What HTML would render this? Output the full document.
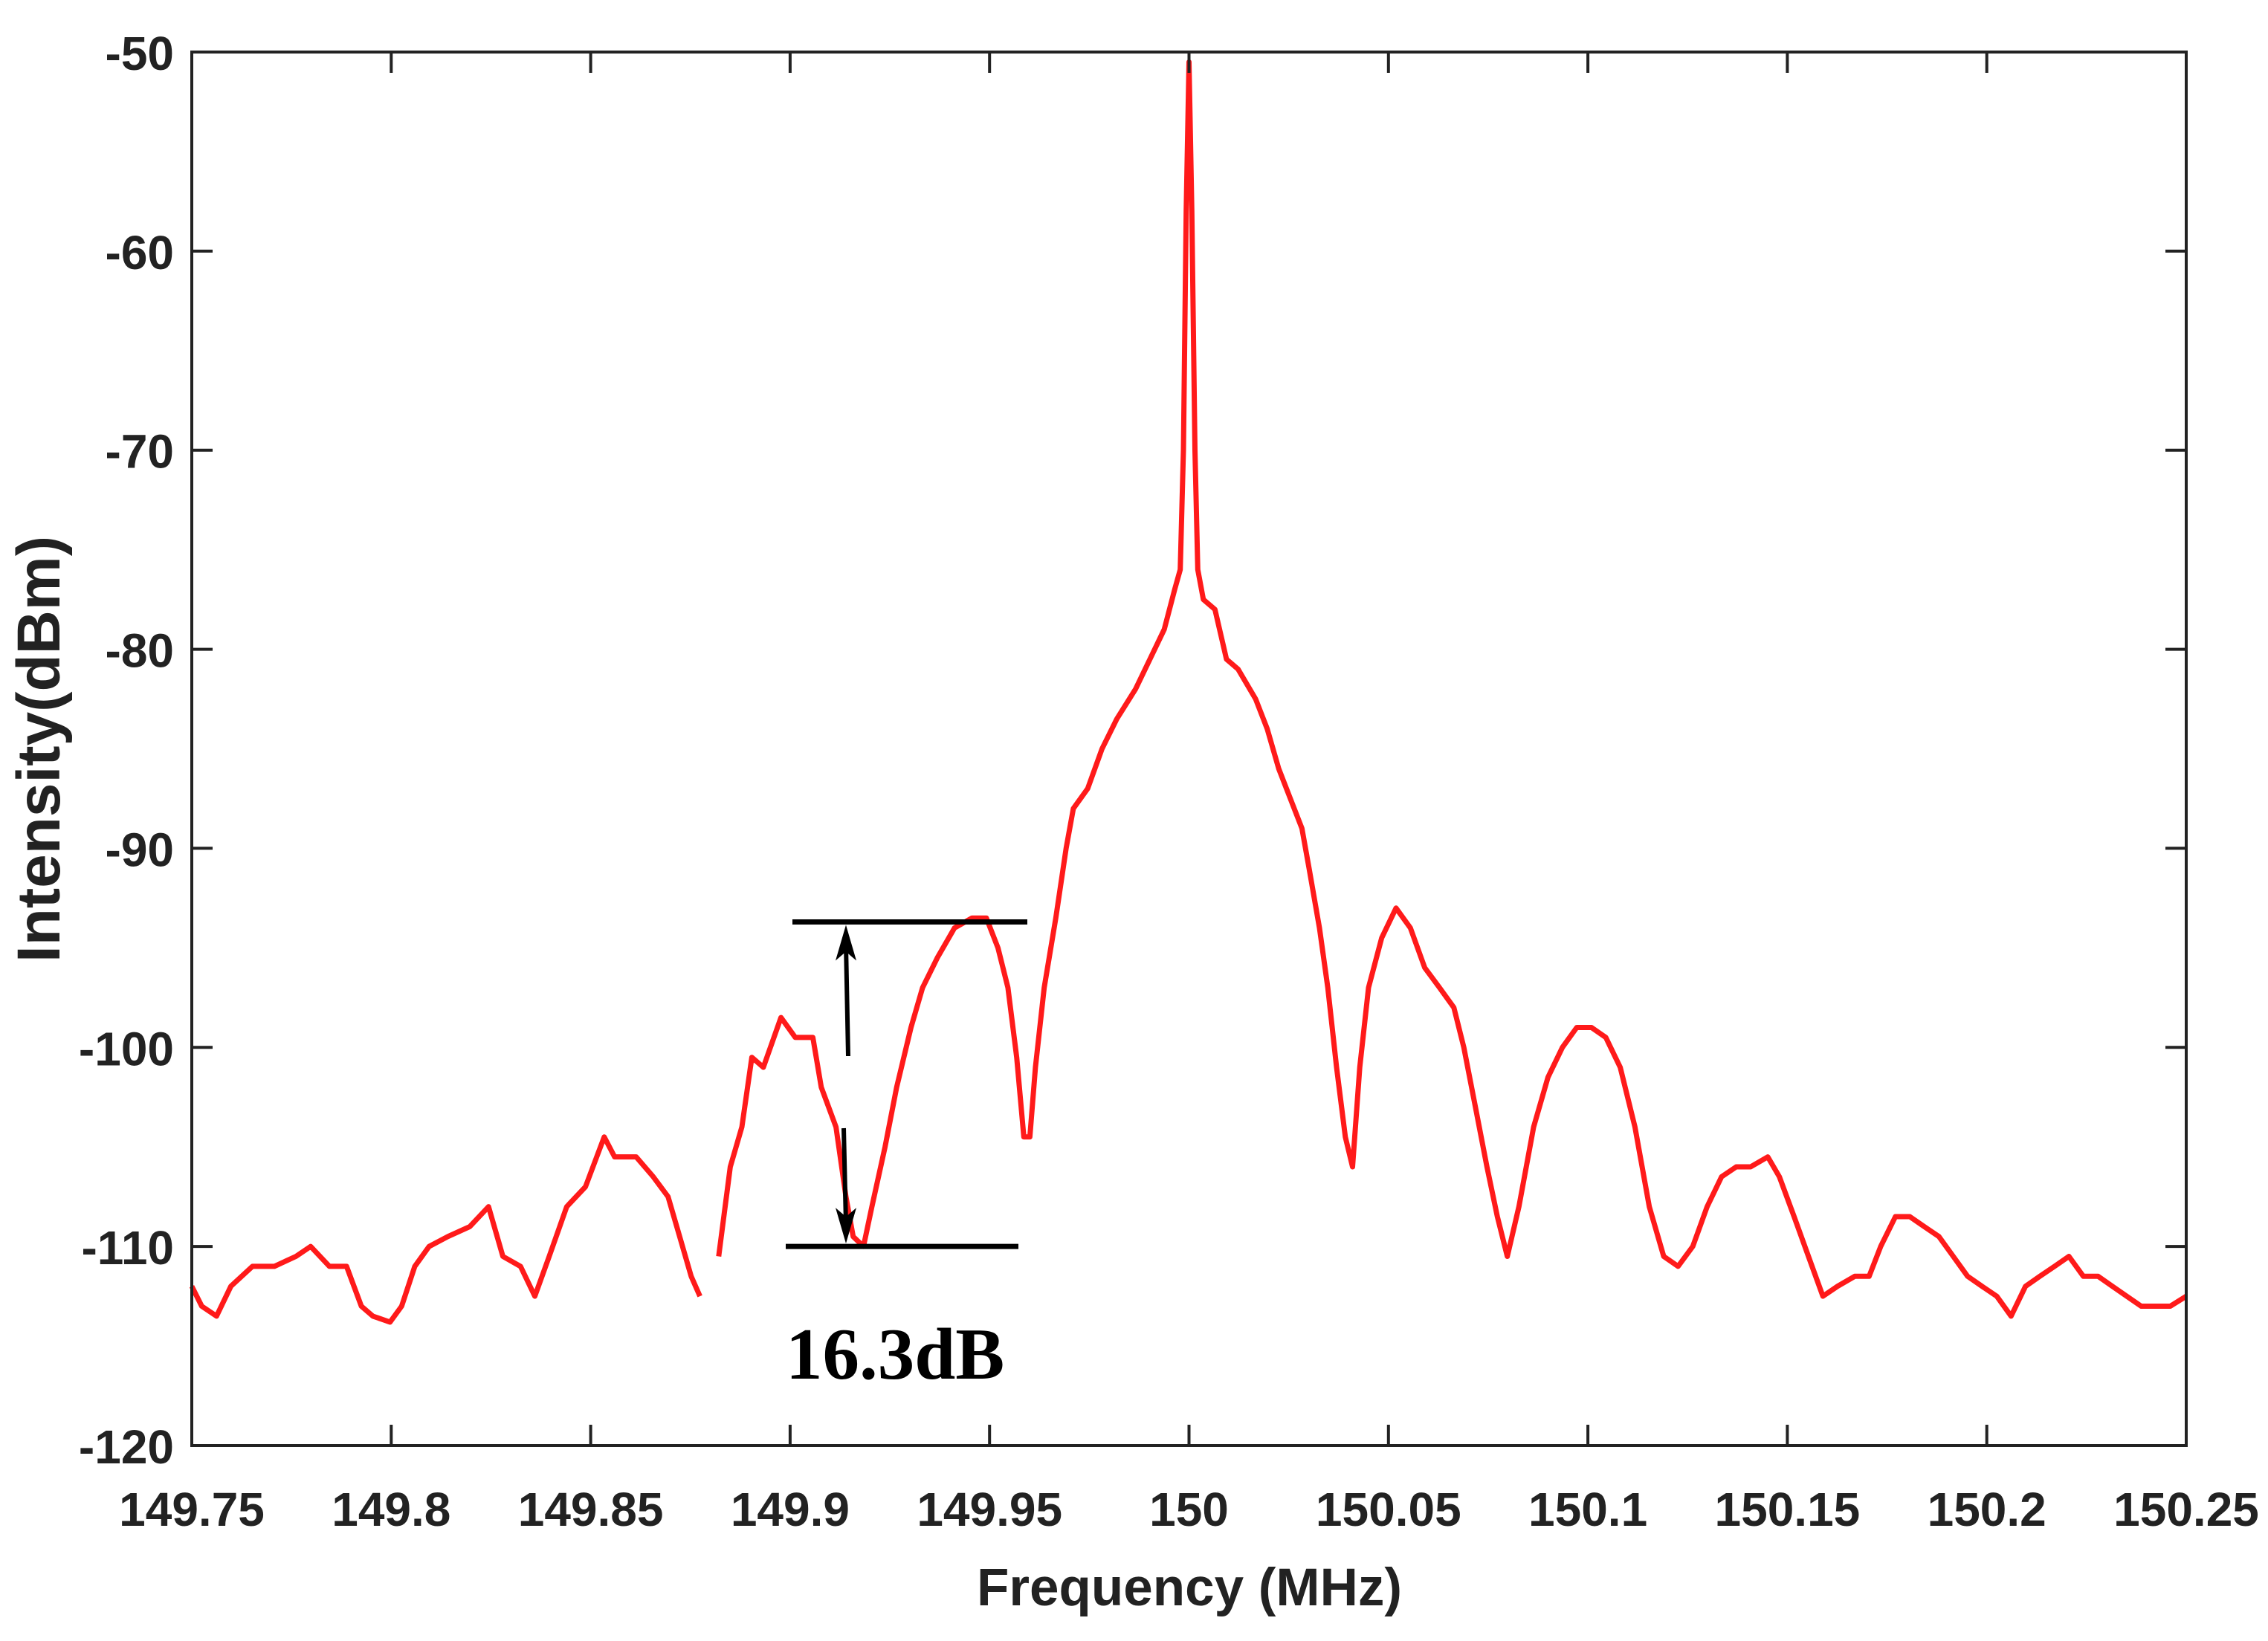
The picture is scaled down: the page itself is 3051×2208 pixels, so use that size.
<!DOCTYPE html>
<html><head><meta charset="utf-8"><style>
html,body{margin:0;padding:0;background:#fff;}
svg{display:block;}
text{font-family:"Liberation Sans",Arial,sans-serif;font-weight:bold;fill:#222;}
</style></head><body>
<svg id="chart" width="3051" height="2208" viewBox="0 0 3051 2208" xmlns="http://www.w3.org/2000/svg">
<rect x="0" y="0" width="3051" height="2208" fill="#fff"/>
<path id="trace" fill="none" stroke="#ff1a1a" stroke-width="7" stroke-linejoin="round"/>
<rect x="258" y="70" width="2683" height="1875" fill="none" stroke="#222" stroke-width="4"/>
<g id="ticks"></g>
<g id="annot"></g>
<text x="1600" y="2160" font-size="71" text-anchor="middle">Frequency (MHz)</text>
<text transform="translate(80,1008) rotate(-90)" font-size="82" text-anchor="middle">Intensity(dBm)</text>
</svg>
<script>
const xTicks = [149.75,149.8,149.85,149.9,149.95,150,150.05,150.1,150.15,150.2,150.25];
const xTickLabels = ["149.75","149.8","149.85","149.9","149.95","150","150.05","150.1","150.15","150.2","150.25"];
const yTicks = [-50,-60,-70,-80,-90,-100,-110,-120];
const yTickLabels = ["-50","-60","-70","-80","-90","-100","-110","-120"];
const freq = [149.75,149.7525,149.7562,149.7598,149.7652,149.7707,149.7761,149.7798,149.7845,149.7888,149.7925,149.7954,149.7997,149.8026,149.8059,149.8095,149.8142,149.8197,149.8244,149.8280,149.8324,149.8360,149.8396,149.8440,149.8487,149.8534,149.8560,149.8614,149.8657,149.8694,149.8723,149.8752,149.8774,149.8798,
149.8821,149.8850,149.8879,149.8904,149.8933,149.8977,149.9013,149.9057,149.9078,149.9115,149.9140,149.9158,149.9184,149.9205,149.9238,149.9267,149.9303,149.9332,149.9369,149.9412,149.9456,149.9492,149.9521,149.9546,149.9568,149.9586,149.9601,149.9615,149.9637,149.9666,149.9692,149.9710,149.9746,149.9782,149.9819,149.9866,149.9902,149.9938,149.9964,149.9978,149.9986,149.9993,150.0000,150.0007,150.0015,150.0022,150.0036,150.0065,150.0094,150.0123,150.0167,150.0196,150.0225,150.0254,150.0283,150.0301,150.0327,150.0348,150.0370,150.0392,150.0410,150.0428,150.0450,150.0483,150.0519,150.0555,150.0591,150.0628,150.0664,150.0689,150.0718,150.0747,150.0773,150.0798,150.0827,150.0864,150.0900,150.0936,150.0972,150.1009,150.1045,150.1081,150.1118,150.1154,150.1190,150.1226,150.1263,150.1299,150.1335,150.1372,150.1408,150.1451,150.1480,150.1517,150.1553,150.1589,150.1626,150.1669,150.1705,150.1734,150.1771,150.1807,150.1843,150.1880,150.1916,150.1952,150.1988,150.2025,150.2061,150.2097,150.2133,150.2170,150.2206,150.2242,150.2279,150.2315,150.2351,150.2387,150.2424,150.2460,150.25];
const power = [-112,-113,-113.5,-112,-111,-111,-110.5,-110,-111,-111,-113,-113.5,-113.8,-113,-111,-110,-109.5,-109,-108,-110.5,-111,-112.5,-110.5,-108,-107,-104.5,-105.5,-105.5,-106.5,-107.5,-109.5,-111.5,-112.5,null,
-110.5,-106,-104,-100.5,-101,-98.5,-99.5,-99.5,-102,-104,-107.5,-109.5,-110,-108,-105,-102,-99,-97,-95.5,-94,-93.5,-93.5,-95,-97,-100.5,-104.5,-104.5,-101,-97,-93.5,-90,-88,-87,-85,-83.5,-82,-80.5,-79,-77,-76,-70,-58,-50.5,-58,-70,-76,-77.5,-78,-80.5,-81,-82.5,-84,-86,-87.5,-89,-91,-94,-97,-101,-104.5,-106,-101,-97,-94.5,-93,-94,-96,-97,-98,-100,-103,-106,-108.5,-110.5,-108,-104,-101.5,-100,-99,-99,-99.5,-101,-104,-108,-110.5,-111,-110,-108,-106.5,-106,-106,-105.5,-106.5,-108.5,-110.5,-112.5,-112,-111.5,-111.5,-110,-108.5,-108.5,-109,-109.5,-110.5,-111.5,-112,-112.5,-113.5,-112,-111.5,-111,-110.5,-111.5,-111.5,-112,-112.5,-113,-113,-113,-112.5];
const annotTop = -93.7, annotBottom = -110;
const annotLabel = "16.3dB";

const L=258,R=2941,T=70,B=1945;
const xs=f=>L+(f-149.75)/0.5*(R-L);
const ys=v=>T+(-50-v)/70*(B-T);
const NS="http://www.w3.org/2000/svg";
function mk(tag,attrs,parent){const e=document.createElementNS(NS,tag);for(const k in attrs)e.setAttribute(k,attrs[k]);parent.appendChild(e);return e;}
const ticks=document.getElementById('ticks');
xTicks.forEach((f,i)=>{
  const x=xs(f);
  const t1=mk('line',{x1:x,y1:B,x2:x,y2:B-28,stroke:'#222','stroke-width':4},ticks);
  
  
  const t2=mk('line',{x1:x,y1:T,x2:x,y2:T+28,stroke:'#222','stroke-width':4},ticks);
  
  
  const lb=mk('text',{x:x,y:2053,'font-size':64,'text-anchor':'middle'},ticks);
  lb.textContent=xTickLabels[i];
  
  
});
yTicks.forEach((v,i)=>{
  const y=ys(v);
  const t1=mk('line',{x1:L,y1:y,x2:L+28,y2:y,stroke:'#222','stroke-width':4},ticks);
  
  
  const t2=mk('line',{x1:R,y1:y,x2:R-28,y2:y,stroke:'#222','stroke-width':4},ticks);
  
  
  const lb=mk('text',{x:234,y:y+24,'font-size':64,'text-anchor':'end'},ticks);
  lb.textContent=yTickLabels[i];
  
  
});
let d='',pen=false;
freq.forEach((f,i)=>{const v=power[i];if(v===null){pen=false;return;}d+=(pen?'L':'M')+xs(f).toFixed(1)+' '+ys(v).toFixed(1);pen=true;});
document.getElementById('trace').setAttribute('d',d);
const an=document.getElementById('annot');
const yt=ys(annotTop), yb=ys(annotBottom), ax=1138;
const l1=mk('line',{x1:1066,y1:yt,x2:1382,y2:yt,stroke:'#000','stroke-width':7},an);


const l2=mk('line',{x1:1057,y1:yb,x2:1370,y2:yb,stroke:'#000','stroke-width':7},an);


const a1=mk('line',{x1:ax+3,y1:1421,x2:ax,y2:yt+30,stroke:'#000','stroke-width':6},an);


const h1=mk('path',{d:`M${ax} ${yt+4} L${ax-14} ${yt+52} L${ax} ${yt+40} L${ax+14} ${yt+52} Z`,fill:'#000'},an);


const a2=mk('line',{x1:ax-3,y1:1518,x2:ax,y2:yb-30,stroke:'#000','stroke-width':6},an);


const h2=mk('path',{d:`M${ax} ${yb-4} L${ax-14} ${yb-52} L${ax} ${yb-40} L${ax+14} ${yb-52} Z`,fill:'#000'},an);


const tx=mk('text',{x:1057,y:1855,'font-size':99,style:'font-family:"Liberation Serif",serif;font-weight:bold;fill:#000'},an);
tx.textContent=annotLabel;


</script>
</body></html>
